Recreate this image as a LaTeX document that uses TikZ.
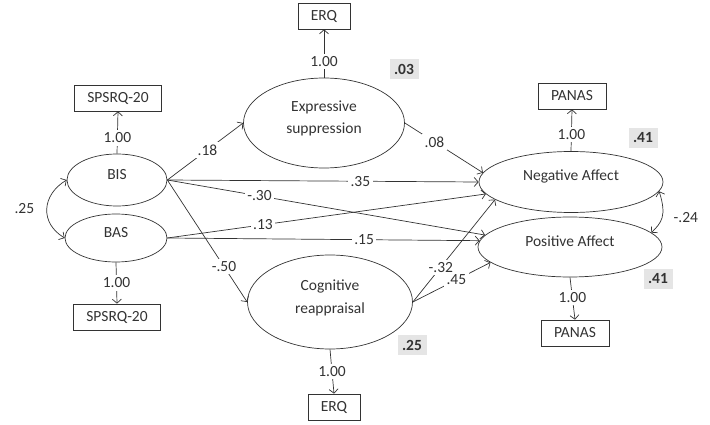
\documentclass[tikz,border=0pt]{standalone}
\usepackage{fontspec}
\setmainfont{Carlito}
\usetikzlibrary{shapes.geometric,arrows.meta}
\tikzset{>={Straight Barb[length=4pt,width=9pt]}}

\begin{document}
\begin{tikzpicture}[x=1pt, y=-1pt, line width=0.7pt, color=black!80,
    every node/.style={font=\fontsize{15.5}{22.5}\selectfont},
    latent/.style={draw, ellipse, inner sep=0pt, align=center, text height=10pt, text depth=12pt},
    twoline/.style={text height=32pt, text depth=10pt},
    observed/.style={draw, rectangle, minimum height=26pt, inner xsep=13pt},
    coef/.style={fill=white, inner sep=2.5pt},
    rsq/.style={fill=black!10, font=\fontsize{15.5}{18}\selectfont\bfseries, inner sep=2pt, minimum width=29pt, minimum height=20pt}]
    \useasboundingbox (0,0) rectangle (710,425);

    % Latent variables
    \node[latent, minimum width=100pt, minimum height=52pt] (BIS) at (117,180) {BIS};
    \node[latent, minimum width=102pt, minimum height=48pt] (BAS) at (116,238) {BAS};
    \node[latent, twoline, minimum width=161pt, minimum height=90pt] (ES) at (324,123) {Expressive\\suppression};
    \node[latent, twoline, minimum width=165pt, minimum height=94pt] (CR) at (330,302) {Cognitive\\reappraisal};
    \node[latent, minimum width=184pt, minimum height=61pt] (NA) at (571,182) {Negative Affect};
    \node[latent, minimum width=184pt, minimum height=60pt] (PA) at (570,247) {Positive Affect};

    % Indicators
    \node[observed] (ERQa) at (324,16) {ERQ};
    \node[observed] (SPa) at (118,98) {SPSRQ-20};
    \node[observed] (SPb) at (117,317) {SPSRQ-20};
    \node[observed] (ERQb) at (334,407) {ERQ};
    \node[observed] (PANa) at (572,96) {PANAS};
    \node[observed] (PANb) at (575,333) {PANAS};

    % Explained variance
    \node[rsq] (r2ES) at (404,69) {.03};
    \node[rsq] (r2CR) at (412,345) {.25};
    \node[rsq] (r2NA) at (643,138) {.41};
    \node[rsq] (r2PA) at (658,279) {.41};

    % Loadings
    \draw[->] (BIS.north) -- node[coef, pos=0.37] {1.00} (SPa.south);
    \draw[->] (BAS.south) -- node[coef, pos=0.5] {1.00} (SPb.north);
    \draw[->] (ES.north) -- node[coef, pos=0.33] {1.00} (ERQa.south);
    \draw[->] (CR.south) -- node[coef, pos=0.5] {1.00} (ERQb.north);
    \draw[->] (NA.north) -- node[coef, pos=0.4] {1.00} (PANa.south);
    \draw[->] (PA.south) -- node[coef, pos=0.48] {1.00} (PANb.north);

    % Paths
    \draw[->] (BIS.east) -- node[coef, pos=0.53] {.18} (ES.west);
    \draw[->] (BIS.east) -- node[coef, pos=0.62] {.35} (NA.west);
    \draw[->] (BIS.east) -- node[coef, pos=0.29] {-.30} (PA.172);
    \draw[->] (BIS.east) -- node[coef, pos=0.71] {-.50} (CR.west);
    \draw[->] (BAS.east) -- node[coef, pos=0.30] {.13} (NA.188);
    \draw[->] (BAS.east) -- node[coef, pos=0.63] {.15} (PA.176);
    \draw[->] (ES.east) -- node[coef, pos=0.38] {.08} (NA.174);
    \draw[->] (CR.east) -- node[coef, pos=0.34] {-.32} (NA.193);
    \draw[->] (CR.east) -- node[coef, pos=0.56] {.45} (PA.191);

    % Covariances
    \draw[<->] (BIS.west) .. controls +(-25,15) and +(-25,-15) .. node[pos=0.5, left=9pt] {.25} (BAS.west);
    \draw[<->] (NA.-6) .. controls +(8,25) and +(10,-10) .. node[pos=0.5, right=8pt] {-.24} (PA.10);
\end{tikzpicture}
\end{document}
